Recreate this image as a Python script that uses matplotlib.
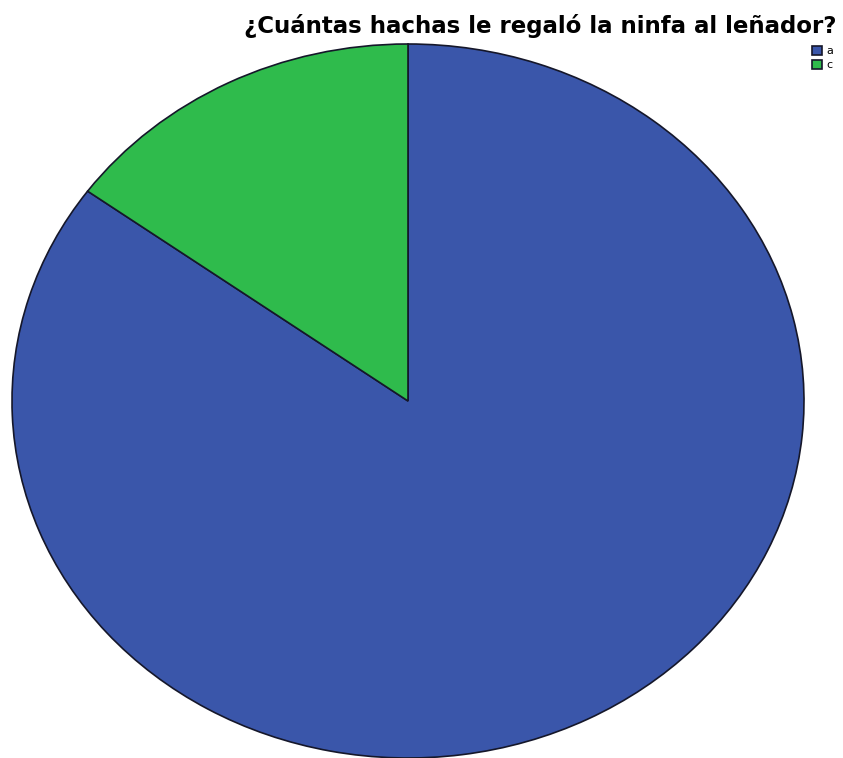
import matplotlib
matplotlib.use("Agg")
import matplotlib.pyplot as plt

categories = ["a", "c"]
values = [85, 15]
colors = ["#3a56aa", "#2fbb4c"]
title = "¿Cuántas hachas le regaló la ninfa al leñador?"

W, H = 843, 758
fig = plt.figure(figsize=(W / 100, H / 100), dpi=100)
fig.patch.set_facecolor("white")

# pie as an ellipse (axes not equal aspect)
left, right, top, bottom = 12, 804, 44, 758
ax = fig.add_axes([left / W, (H - bottom) / H, (right - left) / W, (bottom - top) / H])
wedges, _ = ax.pie(values, colors=colors, startangle=90, counterclock=False,
                   wedgeprops=dict(edgecolor="#15172a", linewidth=1.2))
ax.set_aspect("auto")
ax.set_xlim(-1.0, 1.0)
ax.set_ylim(-1.0, 1.0)
ax.axis("off")

fig.text(836 / W, 1 - 33 / H, title, ha="right", va="baseline",
         fontsize=16.5, fontweight="bold", family=["DejaVu Sans"])

fig.legend(wedges, categories, loc="upper left",
           bbox_to_anchor=(812 / W, 1 - 46 / H), frameon=False,
           fontsize=8, handlelength=0.9, handleheight=0.9, handletextpad=0.35,
           labelspacing=0.3, borderpad=0, borderaxespad=0)

fig.savefig("out.png", dpi=100, facecolor="white")
